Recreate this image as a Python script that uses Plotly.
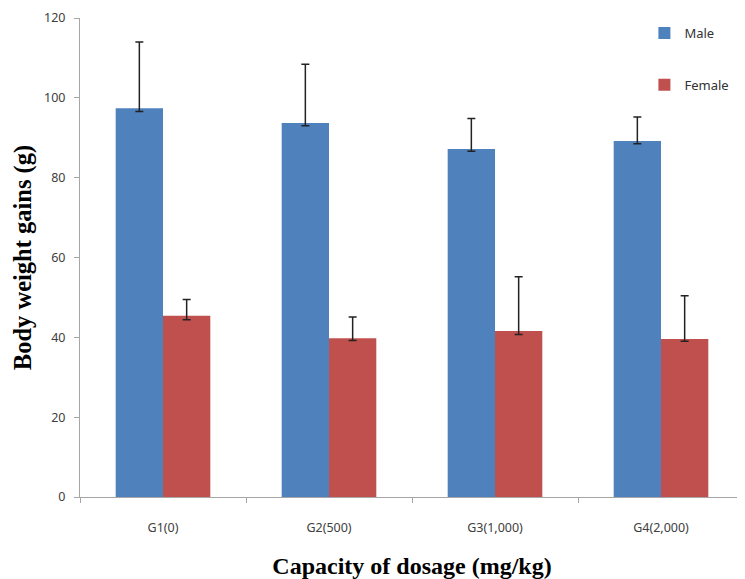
import plotly.graph_objects as go

categories = ["G1(0)", "G2(500)", "G3(1,000)", "G4(2,000)"]
male = [97.4, 93.7, 87.2, 89.2]
male_err_plus = [16.6, 14.7, 7.6, 6.0]
male_err_minus = [0.8, 0.7, 0.6, 0.7]
female = [45.4, 39.8, 41.6, 39.6]
female_err_plus = [4.1, 5.3, 13.6, 10.8]
female_err_minus = [1.0, 0.6, 0.9, 0.6]

fig = go.Figure()
fig.add_trace(go.Bar(
    x=categories, y=male, name="Male", legendgroup="m",
    marker=dict(color="#4F81BD", line=dict(width=0)),
    error_y=dict(type="data", symmetric=False, array=male_err_plus, arrayminus=male_err_minus,
                 color="#222222", thickness=1.5, width=4),
))
fig.add_trace(go.Bar(
    x=categories, y=female, name="Female", legendgroup="f",
    marker=dict(color="#C0504D", line=dict(width=0)),
    error_y=dict(type="data", symmetric=False, array=female_err_plus, arrayminus=female_err_minus,
                 color="#222222", thickness=1.5, width=4),
))

fig.update_layout(
    width=737, height=571,
    margin=dict(l=72, r=1, t=10, b=82, autoexpand=False),
    paper_bgcolor="white", plot_bgcolor="white",
    barmode="group", bargap=0.43, bargroupgap=0,
    font=dict(family="Noto Sans, sans-serif", size=12, color="#404040"),
    legend=dict(x=0.85, y=1.0, xanchor="left", yanchor="top",
                tracegroupgap=32, font=dict(size=13, color="#333333"),
                bgcolor="rgba(0,0,0,0)", itemwidth=30),
    showlegend=True,
)
fig.update_xaxes(
    showline=True, linecolor="#A6A6A6", linewidth=1,
    ticks="outside", ticklen=5, tickcolor="#A6A6A6", tickson="boundaries",
    ticklabelstandoff=19,
    tickfont=dict(size=12.5, color="#404040"),
    title=dict(text="<b>Capacity of dosage (mg/kg)</b>",
               font=dict(family="Liberation Serif, Times New Roman, serif", size=24, color="black"),
               standoff=22),
    showgrid=False,
)
fig.update_yaxes(
    range=[0, 120], dtick=20,
    showline=True, linecolor="#A6A6A6", linewidth=1,
    ticks="outside", ticklen=5, tickcolor="#A6A6A6",
    ticklabelstandoff=6,
    tickfont=dict(size=12.5, color="#404040"),
    title=dict(text="<b>Body weight gains (g)</b>",
               font=dict(family="Liberation Serif, Times New Roman, serif", size=24.5, color="black"),
               standoff=5),
    showgrid=False, zeroline=False,
)

fig.write_html("out.html")
